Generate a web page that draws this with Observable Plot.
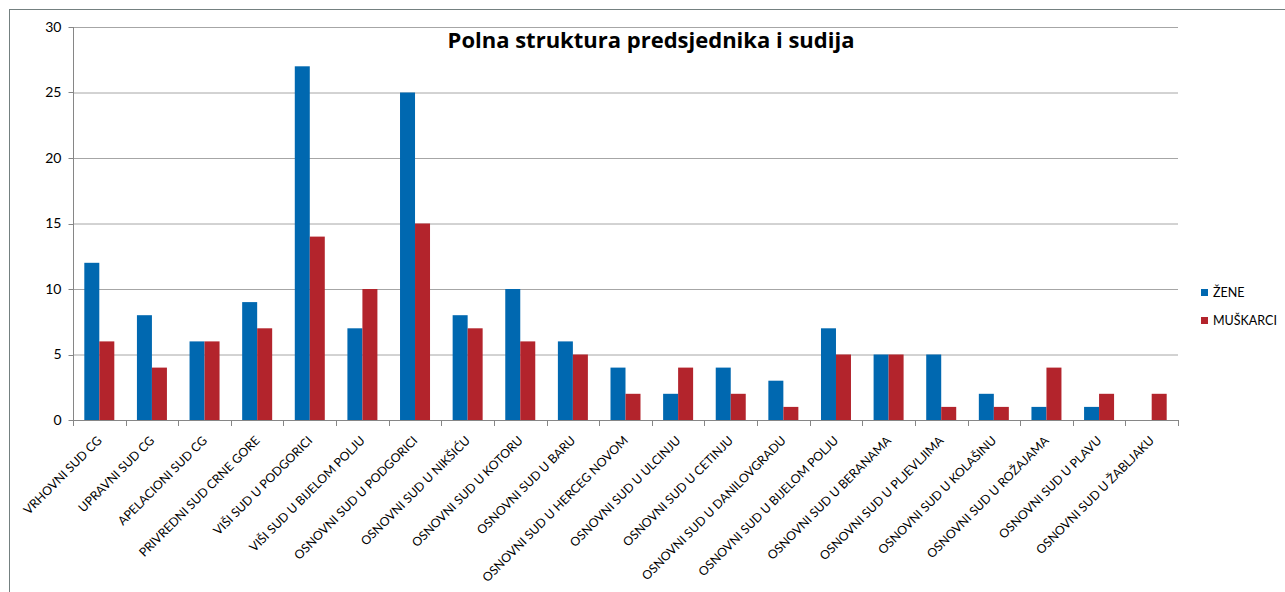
<!DOCTYPE html>
<html>
<head>
<meta charset="utf-8">
<script src="https://cdn.jsdelivr.net/npm/d3@7"></script>
<script src="https://cdn.jsdelivr.net/npm/@observablehq/plot@0.6"></script>
<style>
  html, body { margin: 0; padding: 0; background: #fff; }
  #wrap { position: relative; width: 1285px; height: 592px; overflow: hidden; font-family: Lato, sans-serif; }
  #frame { position: absolute; left: 9px; top: 9px; width: 1300px; height: 620px; border: 1.5px solid #748080; box-sizing: border-box; }
  #title { position: absolute; left: 0; width: 1302px; top: 24px; text-align: center; font-family: "Open Sans", sans-serif; font-weight: bold; font-size: 22px; line-height: 30px; color: #000; }
  #legend { position: absolute; left: 1201px; top: 278px; font-size: 12.5px; color: #000; }
  #legend .item { display: flex; align-items: center; height: 28px; }
  #legend .sw { width: 7px; height: 7px; margin-right: 5px; }
  #chart { position: absolute; left: 0; top: 0; }
  #chart svg g[aria-label="x-axis tick label"] text { font-size: 12.3px; }
  #chart svg g[aria-label="y-axis tick label"] text { font-size: 14px; }
</style>
</head>
<body>
<div id="wrap">
  <div id="frame"></div>
  <div id="chart"></div>
  <div id="title">Polna struktura predsjednika i sudija</div>
  <div id="legend"></div>
</div>
<script>
const courts = [
  "VRHOVNI SUD CG",
  "UPRAVNI SUD CG",
  "APELACIONI SUD CG",
  "PRIVREDNI SUD CRNE GORE",
  "VIŠI SUD U PODGORICI",
  "VIŠI SUD U BIJELOM POLJU",
  "OSNOVNI SUD U PODGORICI",
  "OSNOVNI SUD U NIKŠIĆU",
  "OSNOVNI SUD U KOTORU",
  "OSNOVNI SUD U BARU",
  "OSNOVNI SUD U HERCEG NOVOM",
  "OSNOVNI SUD U ULCINJU",
  "OSNOVNI SUD U CETINJU",
  "OSNOVNI SUD U DANILOVGRADU",
  "OSNOVNI SUD U BIJELOM POLJU",
  "OSNOVNI SUD U BERANAMA",
  "OSNOVNI SUD U PLJEVLJIMA",
  "OSNOVNI SUD U KOLAŠINU",
  "OSNOVNI SUD U ROŽAJAMA",
  "OSNOVNI SUD U PLAVU",
  "OSNOVNI SUD U ŽABLJAKU"
];
const zene =     [12, 8, 6, 9, 27, 7, 25, 8, 10, 6, 4, 2, 4, 3, 7, 5, 5, 2, 1, 1, 0];
const muskarci = [ 6, 4, 6, 7, 14, 10, 15, 7, 6, 5, 2, 4, 2, 1, 5, 5, 1, 1, 4, 2, 2];
const seriesNames = ["ŽENE", "MUŠKARCI"];
const seriesColors = ["#0068b0", "#b3242c"];
const yTicks = [0, 5, 10, 15, 20, 25, 30];

const data = courts.map((c, i) => ({court: c, zene: zene[i], muskarci: muskarci[i]}));

const W = 1285, H = 592;
const mL = 73, mR = 107, mT = 27, mB = 172;
const step = (W - mL - mR) / courts.length;
const barW = 15;
const outer = step / 2 - barW;

const chart = Plot.plot({
  width: W,
  height: H,
  marginLeft: mL,
  marginRight: mR,
  marginTop: mT,
  marginBottom: mB,
  style: {fontFamily: "Lato, sans-serif", fontSize: "12px", color: "#000", background: "transparent", overflow: "visible"},
  x: {domain: courts, padding: 0, round: false, label: null, tickRotate: -45, tickSize: 0, tickPadding: 18},
  y: {domain: [0, 30], ticks: yTicks, label: null, tickSize: 0, tickPadding: 12},
  marks: [
    Plot.ruleY(yTicks, {stroke: "#a6a6a6", strokeWidth: 1}),
    Plot.barY(data, {x: "court", y: "zene", fill: seriesColors[0], insetLeft: outer, insetRight: step / 2}),
    Plot.barY(data, {x: "court", y: "muskarci", fill: seriesColors[1], insetLeft: step / 2, insetRight: outer})
  ]
});

document.getElementById("chart").appendChild(chart);

// axis lines and tick marks in the Excel style
const svg = d3.select(chart);
const xs = chart.scale("x");
const ys = chart.scale("y");
const x0 = xs.apply(courts[0]);
const bw = xs.bandwidth;
const y0 = ys.apply(0);
const yTop = ys.apply(30);
const g = svg.append("g").attr("stroke", "#868686").attr("stroke-width", 1);
const xa = Math.round(x0) + 0.5;
g.append("line").attr("x1", xa).attr("x2", xa).attr("y1", yTop).attr("y2", y0);
yTicks.forEach(t => {
  const y = Math.round(ys.apply(t)) + 0.5;
  g.append("line").attr("x1", xa - 5).attr("x2", xa).attr("y1", y).attr("y2", y);
});
g.append("line").attr("x1", x0).attr("x2", x0 + bw * courts.length).attr("y1", Math.round(y0) + 0.5).attr("y2", Math.round(y0) + 0.5);
for (let i = 0; i <= courts.length; i++) {
  const x = Math.round(x0 + i * bw) + 0.5;
  g.append("line").attr("x1", x).attr("x2", x).attr("y1", y0).attr("y2", y0 + 6);
}

// legend
const legend = d3.select("#legend");
seriesNames.forEach((n, i) => {
  const it = legend.append("div").attr("class", "item");
  it.append("div").attr("class", "sw").style("background", seriesColors[i]);
  it.append("span").text(n);
});
</script>
</body>
</html>
